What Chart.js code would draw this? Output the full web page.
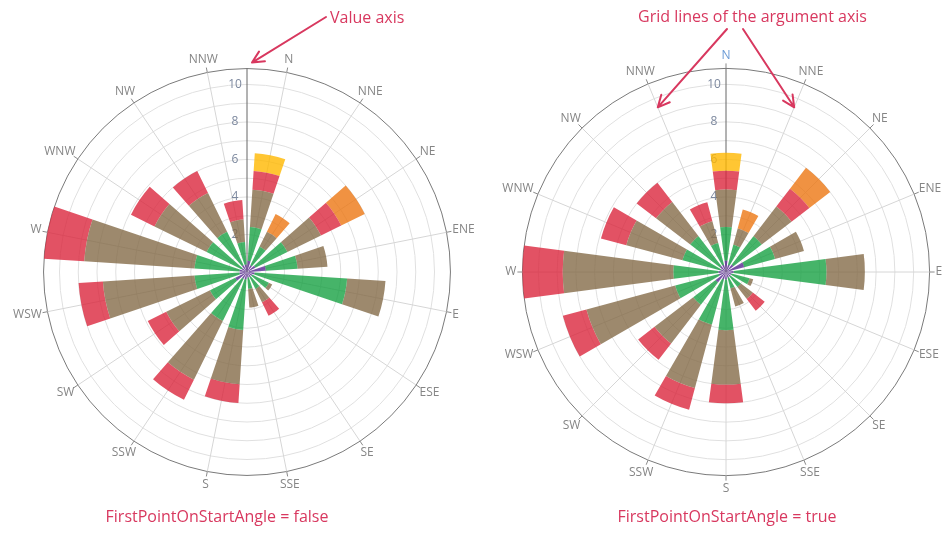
<!DOCTYPE html>
<html>
<head>
<meta charset="utf-8">
<script src="https://cdn.jsdelivr.net/npm/chart.js@4.4.1/dist/chart.umd.min.js"></script>
<style>
  html, body { margin: 0; padding: 0; background: #ffffff; }
  #page { position: relative; width: 950px; height: 545px; overflow: hidden; font-family: 'Open Sans', sans-serif; }
  #page canvas { position: absolute; }
  .note { position: absolute; color: #d8385f; font-size: 16px; line-height: 20px; white-space: nowrap; }
  .caption { width: 400px; text-align: center; }
</style>
</head>
<body>
<div id="page">
  <canvas id="leftRose" width="540" height="438" style="left:-23px; top:53px; width:540px; height:438px;"></canvas>
  <canvas id="rightRose" width="540" height="446" style="left:456px; top:49px; width:540px; height:446px;"></canvas>
  <canvas id="notes" width="950" height="545" style="left:0; top:0; width:950px; height:545px;"></canvas>
  <div class="note" style="left:330px; top:7px;">Value axis</div>
  <div class="note" style="left:638px; top:6px;">Grid lines of the argument axis</div>
  <div class="note caption" style="left:17px; top:506px;">FirstPointOnStartAngle = false</div>
  <div class="note caption" style="left:527px; top:506px;">FirstPointOnStartAngle = true</div>
</div>
<script>
// ---------------- data ----------------
const directions = ['N','NNE','NE','ENE','E','ESE','SE','SSE','S','SSW','SW','WSW','W','WNW','NW','NNW'];
const bandNames = ['Band 1','Band 2','Band 3','Band 4','Band 5','Band 6'];
const calmWind     = [0.6, 0.4, 0.5, 1.0, 0.4,  0.3, 0.3, 0.3, 0.4, 0.4, 0.7, 0.4, 0.4,  0.3, 0.4, 0.4];
const lightWind    = [1.8, 1.1, 1.9, 1.7, 4.95, 1.0, 0.7, 0.6, 2.7, 2.5, 1.5, 2.4, 2.4,  2.1, 2.0, 1.2];
const moderateWind = [2.0, 0.9, 2.0, 1.6, 2.05, 0.2, 0.8, 1.0, 2.9, 3.5, 2.6, 4.9, 5.9,  3.1, 2.3, 1.2];
const freshWind    = [1.0, 0,   1.2, 0,   0,    0,   0.8, 0,   1.0, 1.2, 1.1, 1.3, 2.15, 1.4, 1.3, 1.05];
const strongWind   = [0,   1.05,1.4, 0,   0,    0,   0,   0,   0,   0,   0,   0,   0,    0,   0,   0];
const galeWind     = [0.95,0,   0,   0,   0,    0,   0,   0,   0,   0,   0,   0,   0,    0,   0,   0];
const valueTicks = [0, 2, 4, 6, 8, 10];

// ---------------- styles ----------------
const bandColors = [
  'rgba(91,44,149,0.8)',
  'rgba(24,161,68,0.8)',
  'rgba(132,108,72,0.8)',
  'rgba(219,39,61,0.8)',
  'rgba(236,119,19,0.8)',
  'rgba(255,184,0,0.8)'
];
const FONT = "'Open Sans', sans-serif";
const SECTOR = 360 / directions.length;
const BAR = SECTOR * 2 / 3;
const GAP = SECTOR - BAR;
const LABEL_OFFSET = 6;
const TICK_LEN = 5;

// ---------------- derived ----------------
const bands = [calmWind, lightWind, moderateWind, freshWind, strongWind, galeWind];
const cumulative = bands.map((_, b) => directions.map((_, k) =>
  Math.round(bands.slice(0, b + 1).reduce((s, arr) => s + arr[k], 0) * 1000) / 1000));
const maxTotal = Math.max(...cumulative[cumulative.length - 1]);

function buildLayout(firstPointOnStartAngle) {
  const labels = [], slots = [];
  if (firstPointOnStartAngle) {
    directions.forEach(d => labels.push(d));
    slots.push({ angle: BAR / 2, dir: null });
    for (let k = 1; k <= directions.length; k++) {
      slots.push({ angle: GAP, dir: null });
      slots.push({ angle: BAR, dir: k % directions.length });
    }
  } else {
    directions.forEach((d, k) => {
      labels.push('', d);
      slots.push({ angle: GAP / 2, dir: null }, { angle: BAR, dir: k }, { angle: GAP / 2, dir: null });
    });
  }
  return { labels, slots };
}

// stack the rings: each band starts where the previous one ends
const stackRings = {
  id: 'stackRings',
  afterDatasetsUpdate(chart) {
    for (let d = 1; d < chart.data.datasets.length; d++) {
      const prev = chart.getDatasetMeta(d - 1).data;
      chart.getDatasetMeta(d).data.forEach((el, i) => { el.innerRadius = prev[i].outerRadius; });
    }
  }
};

// argument-axis labels centred along their ray, plus short outer tick marks
const argumentAxis = {
  id: 'argumentAxis',
  beforeDraw(chart) {
    const s = chart.scales.r;
    const items = s._pointLabelItems;
    if (!items) return;
    items.forEach((it, i) => {
      const w = it.right - it.left, h = it.bottom - it.top;
      const th = s.getIndexAngle(i);
      const p = s.getPointPosition(i, s.drawingArea + LABEL_OFFSET);
      const cx = p.x + w / 2 * Math.sin(th);
      const cy = p.y - h / 2 * Math.cos(th);
      it.x = cx; it.textAlign = 'center';
      it.left = cx - w / 2; it.right = cx + w / 2;
      it.y = cy - h / 2; it.top = cy - h / 2; it.bottom = cy + h / 2;
    });
  },
  beforeDatasetsDraw(chart) {
    const s = chart.scales.r, ctx = chart.ctx;
    ctx.save();
    ctx.strokeStyle = '#8a8a8a';
    ctx.lineWidth = 1;
    s._pointLabels.forEach((lab, i) => {
      if (!lab) return;
      const a = s.getPointPosition(i, s.drawingArea);
      const b = s.getPointPosition(i, s.drawingArea + TICK_LEN);
      ctx.beginPath(); ctx.moveTo(a.x, a.y); ctx.lineTo(b.x, b.y); ctx.stroke();
    });
    ctx.restore();
  }
};

function makeRose(canvasId, firstPointOnStartAngle) {
  const { labels, slots } = buildLayout(firstPointOnStartAngle);
  const datasets = bands.map((_, b) => ({
    label: bandNames[b],
    data: slots.map(s => s.dir === null ? 0 : cumulative[b][s.dir]),
    backgroundColor: bandColors[b],
    borderWidth: 0,
    angle: ctx => slots[ctx.dataIndex].angle
  }));
  return new Chart(document.getElementById(canvasId), {
    type: 'polarArea',
    data: { labels, datasets },
    plugins: [stackRings, argumentAxis],
    options: {
      responsive: false,
      animation: false,
      events: [],
      layout: { padding: 0 },
      plugins: { legend: { display: false }, tooltip: { enabled: false } },
      scales: {
        r: {
          min: 0,
          max: maxTotal,
          startAngle: 0,
          afterBuildTicks: axis => {
            const t = [];
            for (let v = 0; v <= Math.floor(maxTotal); v++) t.push({ value: v });
            if (maxTotal > Math.floor(maxTotal)) t.push({ value: maxTotal });
            axis.ticks = t;
          },
          ticks: {
            display: true,
            showLabelBackdrop: false,
            color: '#7c889e',
            font: { family: FONT, size: 12 },
            callback: v => valueTicks.includes(v) ? String(v) + '\u2003\u2003' : ''
          },
          grid: {
            circular: true,
            lineWidth: 1,
            color: ctx => (ctx.tick && ctx.tick.value === maxTotal) ? '#7a7a7a' : '#e0e0e0'
          },
          angleLines: {
            display: true,
            color: ctx => ctx.index === 0 ? '#666666' : '#d6d6d6',
            lineWidth: ctx => (ctx.index === 0 || ctx.label) ? 1 : 0
          },
          pointLabels: {
            display: true,
            padding: -3,
            color: ctx => (firstPointOnStartAngle && ctx.index === 0) ? '#6b9bd6' : '#858585',
            font: ctx => ({ family: FONT, size: ctx.label ? 12 : 1 })
          }
        }
      }
    }
  });
}

Chart.defaults.font.family = FONT;
const leftChart = makeRose('leftRose', false);
const rightChart = makeRose('rightRose', true);

// ---------------- annotation arrows ----------------
function pagePoint(chart, canvasId, index, radius) {
  const c = document.getElementById(canvasId);
  const p = chart.scales.r.getPointPosition(index, radius);
  return { x: p.x + parseFloat(c.style.left), y: p.y + parseFloat(c.style.top) };
}
function arrow(ctx, x1, y1, x2, y2) {
  const a = Math.atan2(y2 - y1, x2 - x1), h = 13, w = 0.45;
  ctx.beginPath();
  ctx.moveTo(x1, y1); ctx.lineTo(x2, y2);
  ctx.moveTo(x2 - h * Math.cos(a - w), y2 - h * Math.sin(a - w));
  ctx.lineTo(x2, y2);
  ctx.lineTo(x2 - h * Math.cos(a + w), y2 - h * Math.sin(a + w));
  ctx.stroke();
}
const nctx = document.getElementById('notes').getContext('2d');
nctx.strokeStyle = '#d8385f';
nctx.lineWidth = 2;
nctx.lineCap = 'round';
nctx.lineJoin = 'round';
const ls = leftChart.scales.r;
const axisTop = pagePoint(leftChart, 'leftRose', 0, ls.drawingArea);
arrow(nctx, 326, 17, axisTop.x + 5, axisTop.y - 6);
const rs = rightChart.scales.r;
const rr = rs.getDistanceFromCenterForValue(9.5);
const nnw = pagePoint(rightChart, 'rightRose', directions.indexOf('NNW'), rr);
const nne = pagePoint(rightChart, 'rightRose', directions.indexOf('NNE'), rr);
arrow(nctx, 727, 29, nnw.x, nnw.y);
arrow(nctx, 743, 29, nne.x, nne.y);
</script>
</body>
</html>
